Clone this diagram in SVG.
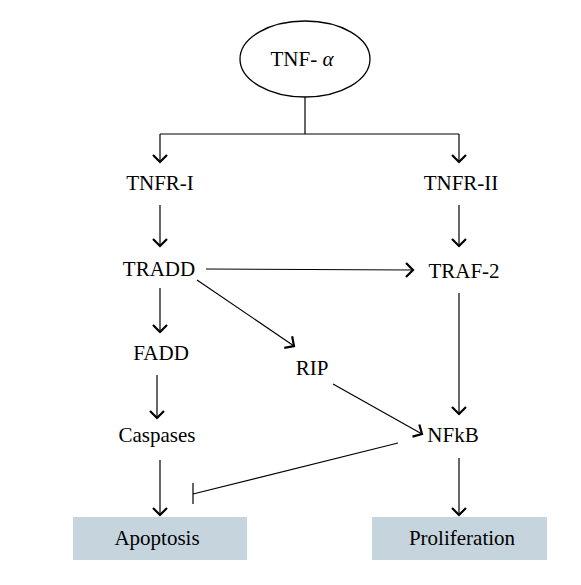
<svg xmlns="http://www.w3.org/2000/svg" width="581" height="585" viewBox="0 0 581 585">
<defs>
<marker id="arr" markerUnits="userSpaceOnUse" markerWidth="20" markerHeight="20" viewBox="-10 -10 20 20" refX="0" refY="0" orient="auto">
<path d="M-7,-7 L0,0 L-7,7" fill="none" stroke="#000" stroke-width="2.2"/>
</marker>
</defs>
<style>
text{font-family:"Liberation Serif","Times New Roman",serif;font-size:21px;fill:#000;text-anchor:middle}
.ln{fill:none;stroke:#000;stroke-width:1.2}
.box{fill:#c5d4dd}
</style>
<rect width="581" height="585" fill="#fff"/>
<g id="connectors">
<path class="ln" d="M305,97 V134 M160,134 H459"/>
<path class="ln" d="M160,134 V162" marker-end="url(#arr)"/>
<path class="ln" d="M459,134 V162" marker-end="url(#arr)"/>
<path class="ln" d="M160,205 V246" marker-end="url(#arr)"/>
<path class="ln" d="M459,205 V246" marker-end="url(#arr)"/>
<path class="ln" d="M206,269 L413,270" marker-end="url(#arr)"/>
<path class="ln" d="M197,280 L294,346" marker-end="url(#arr)"/>
<path class="ln" d="M160,288 V332" marker-end="url(#arr)"/>
<path class="ln" d="M459,293 V414" marker-end="url(#arr)"/>
<path class="ln" d="M157,375 V418" marker-end="url(#arr)"/>
<path class="ln" d="M333,384 L422,434" marker-end="url(#arr)"/>
<path class="ln" d="M160,460 V515" marker-end="url(#arr)"/>
<path class="ln" d="M459,458 V515" marker-end="url(#arr)"/>
<path class="ln" d="M398,443 L193,494 M193,483 V504"/>
</g>
<g id="tnf">
<ellipse cx="305" cy="59" rx="65" ry="38" fill="#fff" stroke="#000" stroke-width="1.3"/>
<text x="302" y="66">TNF- <tspan font-style="italic">α</tspan></text>
</g>
<g id="tnfr1"><text x="160" y="190">TNFR-I</text></g>
<g id="tnfr2"><text x="461" y="190">TNFR-II</text></g>
<g id="tradd"><text x="159" y="276">TRADD</text></g>
<g id="traf2"><text x="464" y="278">TRAF-2</text></g>
<g id="fadd"><text x="161" y="360">FADD</text></g>
<g id="rip"><text x="312" y="375">RIP</text></g>
<g id="caspases"><text x="157" y="442">Caspases</text></g>
<g id="nfkb"><text x="453" y="442">NFkB</text></g>
<g id="apoptosis">
<rect class="box" x="73" y="517" width="174" height="43"/>
<text x="157" y="545">Apoptosis</text>
</g>
<g id="proliferation">
<rect class="box" x="372" y="517" width="175" height="43"/>
<text x="462" y="545">Proliferation</text>
</g>
</svg>
